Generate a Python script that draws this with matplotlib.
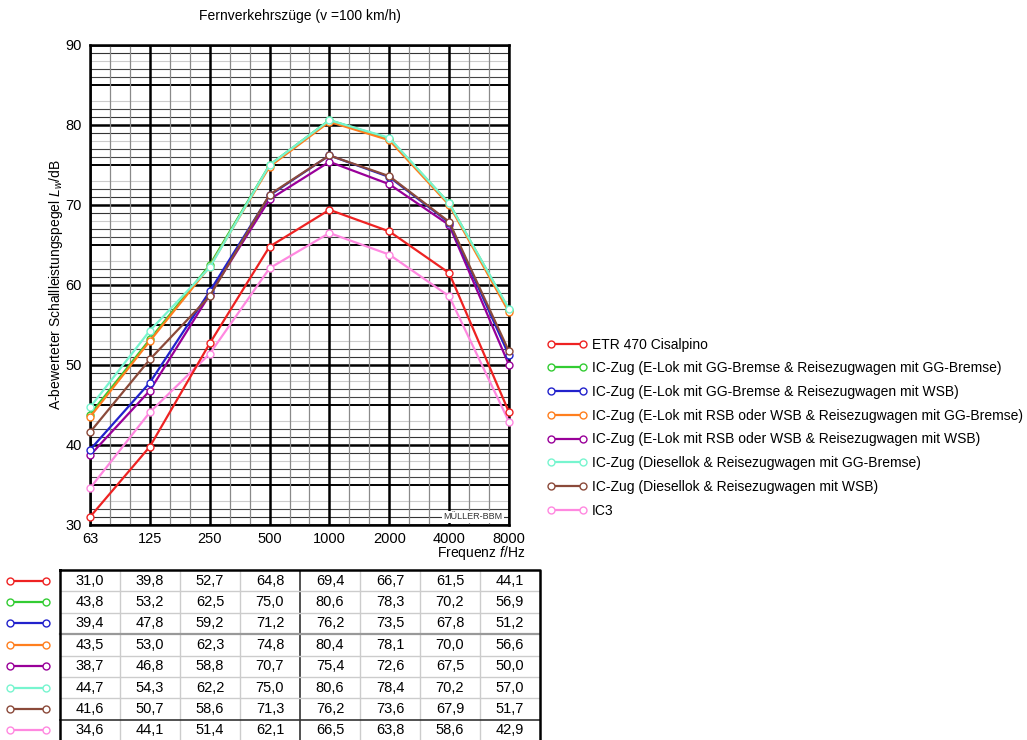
import matplotlib
matplotlib.use("Agg")
import matplotlib.pyplot as plt
import numpy as np

plt.rcParams['font.family'] = ['Liberation Sans', 'DejaVu Sans']
plt.rcParams['mathtext.fontset'] = 'custom'
plt.rcParams['mathtext.rm'] = 'Liberation Sans'
plt.rcParams['mathtext.it'] = 'Liberation Sans:italic'

# ---------------- data ----------------
frequencies = ["63", "125", "250", "500", "1000", "2000", "4000", "8000"]
series_names = [
    "ETR 470 Cisalpino",
    "IC-Zug (E-Lok mit GG-Bremse & Reisezugwagen mit GG-Bremse)",
    "IC-Zug (E-Lok mit GG-Bremse & Reisezugwagen mit WSB)",
    "IC-Zug (E-Lok mit RSB oder WSB & Reisezugwagen mit GG-Bremse)",
    "IC-Zug (E-Lok mit RSB oder WSB & Reisezugwagen mit WSB)",
    "IC-Zug (Diesellok & Reisezugwagen mit GG-Bremse)",
    "IC-Zug (Diesellok & Reisezugwagen mit WSB)",
    "IC3",
]
etr470 = [31.0, 39.8, 52.7, 64.8, 69.4, 66.7, 61.5, 44.1]
ic_gg_gg = [43.8, 53.2, 62.5, 75.0, 80.6, 78.3, 70.2, 56.9]
ic_gg_wsb = [39.4, 47.8, 59.2, 71.2, 76.2, 73.5, 67.8, 51.2]
ic_rsb_gg = [43.5, 53.0, 62.3, 74.8, 80.4, 78.1, 70.0, 56.6]
ic_rsb_wsb = [38.7, 46.8, 58.8, 70.7, 75.4, 72.6, 67.5, 50.0]
ic_diesel_gg = [44.7, 54.3, 62.2, 75.0, 80.6, 78.4, 70.2, 57.0]
ic_diesel_wsb = [41.6, 50.7, 58.6, 71.3, 76.2, 73.6, 67.9, 51.7]
ic3 = [34.6, 44.1, 51.4, 62.1, 66.5, 63.8, 58.6, 42.9]
all_series = [etr470, ic_gg_gg, ic_gg_wsb, ic_rsb_gg, ic_rsb_wsb,
              ic_diesel_gg, ic_diesel_wsb, ic3]
colors = ["#ee2222", "#33cc33", "#2222cc", "#ff7f1e", "#990099",
          "#77f5cf", "#8b4a3a", "#ff88e0"]
draw_order = [7, 0, 4, 2, 6, 1, 3, 5]

FS = 10
W, H = 1027, 740
fig = plt.figure(figsize=(W / 100, H / 100), dpi=100)

# ---------------- main chart ----------------
x0, x1, y0, y1 = 90, 509, 45, 525
ax = fig.add_axes([x0 / W, 1 - y1 / H, (x1 - x0) / W, (y1 - y0) / H])
xpos = np.arange(len(frequencies))
ax.set_xlim(0, len(frequencies) - 1)
ax.set_ylim(30, 90)

# grid (1 dB steps within each decade, irregular weights as in reference)
minor_style = {1: ("#333333", 0.8), 2: ("#444444", 0.8), 3: ("#cccccc", 0.8),
               4: None, 6: ("#444444", 0.8), 7: ("#444444", 0.8),
               8: ("#cccccc", 0.8), 9: ("#333333", 0.8)}
for v in np.arange(30, 91, 1):
    if v % 10 == 0:
        ax.axhline(v, color="black", lw=1.8, zorder=1)
    elif v % 5 == 0:
        ax.axhline(v, color="black", lw=1.4, zorder=1)
    else:
        st = minor_style[int(v % 10)]
        if st is not None:
            ax.axhline(v, color=st[0], lw=st[1], zorder=1)
for i in xpos:
    ax.axvline(i, color="black", lw=1.8, zorder=1)
    if i < len(frequencies) - 1:
        for f in (1 / 3, 2 / 3):
            ax.axvline(i + f, color="#8a8a8a", lw=0.9, zorder=1)

lines = {}
for k in draw_order:
    ln, = ax.plot(xpos, all_series[k], color=colors[k], lw=1.6, marker="o",
                  markersize=5, markerfacecolor="white",
                  markeredgecolor=colors[k], markeredgewidth=1.0, zorder=3,
                  clip_on=False)
    lines[k] = ln

ax.set_xticks(xpos)
ax.set_xticklabels(frequencies)
ax.set_yticks(np.arange(30, 91, 10))
ax.tick_params(axis="both", length=0, labelsize=FS + 0.5)
ax.tick_params(axis="x", pad=5)
ax.tick_params(axis="y", pad=6)
for s in ax.spines.values():
    s.set_linewidth(1.8)

ax.text(0.985, 0.008, "MÜLLER-BBM", transform=ax.transAxes, ha="right",
        va="bottom", fontsize=6.5, color="#333333", zorder=5,
        bbox=dict(facecolor="white", edgecolor="none", pad=1.0))

fig.text(300 / W, 1 - 16 / H, "Fernverkehrszüge (v =100 km/h)",
         ha="center", va="center", fontsize=FS)
fig.text(56 / W, 1 - 285 / H,
         "A-bewerteter Schallleistungspegel $L_w$/dB",
         ha="center", va="center", rotation=90, fontsize=FS)
fig.text(525 / W, 1 - 553 / H, "Frequenz $f$/Hz", ha="right", va="center",
         fontsize=FS)

# legend
handles = [lines[k] for k in range(len(series_names))]
leg = fig.legend(handles, series_names, loc="upper left",
                 bbox_to_anchor=(541 / W, 1 - 332 / H), frameon=False,
                 fontsize=FS, numpoints=2, handlelength=2.9,
                 handletextpad=0.35, labelspacing=0.7, borderaxespad=0)

# ---------------- table ----------------
tx0, tx1, ty0, ty1 = 0, 540, 570, 741
tax = fig.add_axes([tx0 / W, 1 - ty1 / H, (tx1 - tx0) / W, (ty1 - ty0) / H])
ncol = len(frequencies)
nrow = len(all_series)
tax.set_xlim(-1.5, ncol - 0.5)
tax.set_ylim(nrow, 0)
tax.axis("off")

for r, vals in enumerate(all_series):
    yc = r + 0.5
    for c, v in enumerate(vals):
        tax.text(c, yc, f"{v:.1f}".replace(".", ","), ha="center",
                 va="center", fontsize=FS + 0.5)
    tax.plot([-1.33, -0.73], [yc, yc], color=colors[r], lw=1.6, marker="o",
             markersize=5, markerfacecolor="white",
             markeredgecolor=colors[r], markeredgewidth=1.0)

for c in range(1, ncol):
    lw, col = (1.2, "#333333") if c == 4 else (1.0, "#cccccc")
    tax.plot([c - 0.5, c - 0.5], [0, nrow], color=col, lw=lw)
for r in range(1, nrow):
    if r == 3:
        lw, col = (1.6, "#999999")
    elif r == 7:
        lw, col = (1.2, "#333333")
    else:
        lw, col = (1.0, "#cccccc")
    tax.plot([-0.5, ncol - 0.5], [r, r], color=col, lw=lw)
tax.plot([-0.5, ncol - 0.5, ncol - 0.5, -0.5, -0.5],
         [0, 0, nrow, nrow, 0], color="black", lw=1.8, clip_on=False)

fig.savefig("out.png", dpi=100)
